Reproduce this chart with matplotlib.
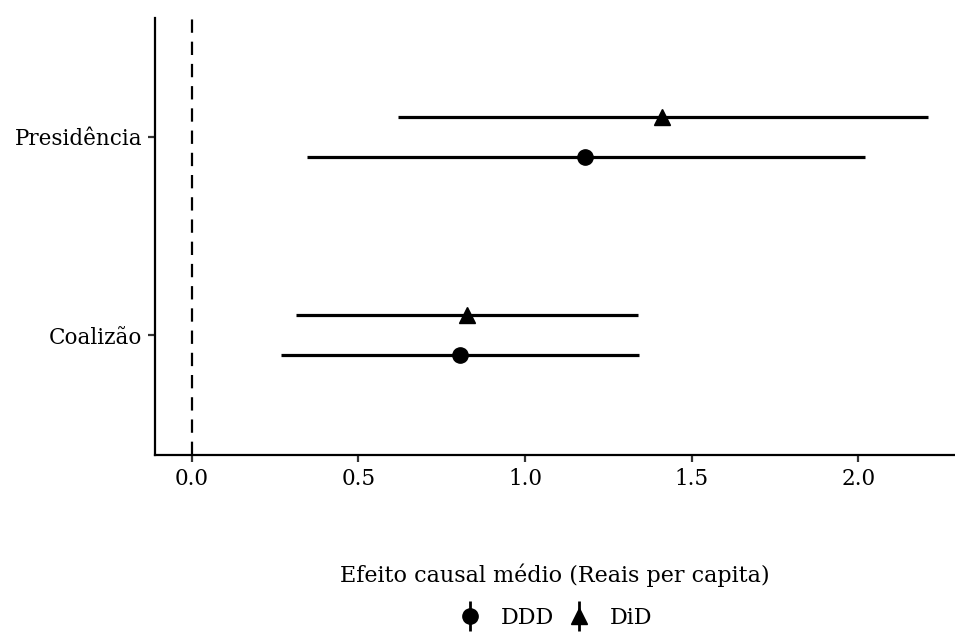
import matplotlib.pyplot as plt
from matplotlib.lines import Line2D
from matplotlib.legend_handler import HandlerTuple

categories = ['Coalizão', 'Presidência']
methods = ['DDD', 'DiD']
markers = {'DDD': 'o', 'DiD': '^'}
offsets = {'DDD': -0.1, 'DiD': 0.1}

est = {'DDD': [0.805, 1.18], 'DiD': [0.826, 1.41]}
low = {'DDD': [0.267, 0.345], 'DiD': [0.312, 0.619]}
high = {'DDD': [1.342, 2.02], 'DiD': [1.339, 2.21]}

plt.rcParams['font.family'] = ['DejaVu Serif']

fig = plt.figure(figsize=(9.55, 6.42), dpi=100)
ax = fig.add_axes([0.162, 0.291, 0.838, 0.681])

ax.axvline(0, color='black', linestyle=(0, (6, 4)), linewidth=1.6, zorder=1)

for m in methods:
    for i, c in enumerate(categories):
        y = i + 1 + offsets[m]
        ax.hlines(y, low[m][i], high[m][i], color='black', linewidth=2.3, zorder=2)
        ax.plot(est[m][i], y, marker=markers[m], color='black', markersize=11 if m == 'DDD' else 12,
                linestyle='none', zorder=3)

ax.set_yticks([1, 2])
ax.set_yticklabels(categories)
ax.set_ylim(0.394, 2.6)
ax.set_xlim(-0.111, 2.29)
ax.set_xticks([0, 0.5, 1.0, 1.5, 2.0])
ax.set_xticklabels(['0.0', '0.5', '1.0', '1.5', '2.0'])

ax.spines['top'].set_visible(False)
ax.spines['right'].set_visible(False)
ax.spines['left'].set_linewidth(1.6)
ax.spines['bottom'].set_linewidth(1.6)
ax.tick_params(axis='both', length=5, width=1.6, color='#333333', labelsize=15.5,
               labelcolor='black', pad=4)

ax.set_xlabel('Efeito causal médio (Reais per capita)', fontsize=16, labelpad=53)

handles = []
for m in methods:
    vline = Line2D([], [], marker='|', markersize=21, markeredgewidth=2.0, color='black', linestyle='none')
    pt = Line2D([], [], marker=markers[m], markersize=11 if m == 'DDD' else 12, color='black', linestyle='none')
    handles.append((vline, pt))

fig.legend(handles, methods, handler_map={tuple: HandlerTuple(ndivide=1)},
           loc='center', bbox_to_anchor=(0.582, 0.037), ncol=2, frameon=False,
           fontsize=16, handlelength=1.0, columnspacing=0.6, handletextpad=0.9)

fig.savefig('out.png', dpi=100)
